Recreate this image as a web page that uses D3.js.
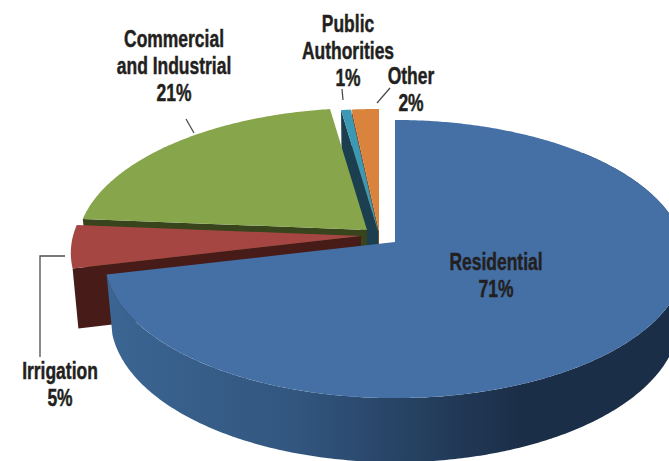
<!DOCTYPE html>
<html>
<head>
<meta charset="utf-8">
<script src="https://cdn.jsdelivr.net/npm/d3@7"></script>
<style>
  html, body { margin: 0; padding: 0; background: #fff; }
  svg { display: block; }
  .label { font-family: "Liberation Sans", sans-serif; font-weight: 700; font-size: 23px; fill: #231f20; stroke: #231f20; stroke-width: 0.45; text-anchor: middle; }
</style>
</head>
<body>
<div id="chart"></div>
<script>
// chart data
var categories = ["Residential", "Irrigation", "Commercial and Industrial", "Public Authorities", "Other"];
var percents = [71, 5, 21, 1, 2];
// wedge sizes as measured on the picture (printed percents are rounded)
var wedgeShares = [71.3, 5, 21.4, 0.6, 1.7];
var labelLines = [["Residential"], ["Irrigation"], ["Commercial", "and Industrial"], ["Public", "Authorities"], ["Other"]];

// set the dimensions of the graph
var svgWidth = 669;
var svgHeight = 461;

var svg = d3.select("#chart")
  .append("svg")
  .attr("width", svgWidth)
  .attr("height", svgHeight);

// disc projection: centre, radii, thickness and perspective
var center = {x: 395, y: 242};
var perspective = 0.1224;
var depth = 59;
var taper = 0.02;
var xScale = d3.scaleLinear().domain([-1, 1]).range([-288, 288]);
var yScale = d3.scaleLinear().domain([-1, 1]).range([-137, 137]);

// angle clockwise from 12 o'clock, r 0..1, level 0 = top face, 1 = bottom face
function project(angle, r, level) {
  var u = r * Math.sin(angle);
  var v = -r * Math.cos(angle);
  var s = 1 / (1 - v * perspective);
  var k = 1 - taper * level;
  return [xScale(u) * s * k, (yScale(v) * k + depth * level) * s];
}

function rim(a0, a1, level) {
  var n = Math.max(2, Math.ceil(Math.abs(a1 - a0) / 0.01));
  return d3.range(n + 1).map(function(i) {
    return project(a0 + (a1 - a0) * i / n, 1, level);
  });
}

var line = d3.line().curve(d3.curveLinear);

// styling per slice, same order as categories
var topColors = ["#4470a6", "#a54642", "#87a54b", "#3c99b5", "#d9833d"];
var faceColors = ["#1b2e47", "#461b18", "#38441c", "#1b3f4e", "#7f4a1f"];
var offsets = [[0, 0], [-34, -6], [-28, -12], [-17, -11], [-16, -11]];

var arcs = d3.pie().sort(null)(wedgeShares);

// wall shading for the big slice (gradient runs in the slice's own coordinates)
var grad = svg.append("defs").append("linearGradient")
  .attr("id", "wall")
  .attr("gradientUnits", "userSpaceOnUse")
  .attr("x1", 110 - center.x).attr("x2", 520 - center.x)
  .attr("y1", 0).attr("y2", 0);
grad.append("stop").attr("offset", "0").attr("stop-color", "#3b6592");
grad.append("stop").attr("offset", "0.45").attr("stop-color", "#32567f");
grad.append("stop").attr("offset", "1").attr("stop-color", "#1b2e47");

// back slices first, residential last so it covers the rest
var drawOrder = [4, 3, 2, 1, 0];

drawOrder.forEach(function(i) {
  var d = arcs[i];
  var g = svg.append("g")
    .attr("transform", "translate(" + (center.x + offsets[i][0]) + "," + (center.y + offsets[i][1]) + ")");

  if (i === 0) {
    // outer wall, only the part facing the viewer
    var wallTop = rim(Math.PI / 4, d.endAngle, 0);
    var wallBottom = rim(d.endAngle, Math.PI / 4, 1);
    g.append("path")
      .attr("d", line(wallTop.concat(wallBottom)) + "Z")
      .attr("fill", "url(#wall)");
  } else {
    // cut face along the start of the wedge
    g.append("path")
      .attr("d", line([
        project(d.startAngle, 0, 0),
        project(d.startAngle, 1, 0),
        project(d.startAngle, 1, 1),
        project(d.startAngle, 0, 1)
      ]) + "Z")
      .attr("fill", faceColors[i]);
  }

  // top face
  g.append("path")
    .attr("d", line([project(0, 0, 0)].concat(rim(d.startAngle, d.endAngle, 0))) + "Z")
    .attr("fill", topColors[i]);
});

// leader lines
var leaders = [
  [[186, 119], [194, 133]],
  [[65, 256], [40, 256], [40, 357]],
  [[342, 89], [343, 100]],
  [[390, 88], [377, 103]]
];
svg.selectAll("path.leader")
  .data(leaders)
  .enter()
  .append("path")
  .attr("class", "leader")
  .attr("d", function(d) { return line(d); })
  .attr("fill", "none")
  .attr("stroke", "#4d4d4f")
  .attr("stroke-width", 1.3);

// labels: centre x and first baseline per slice
var labelPos = [
  {x: 496, y: 270},
  {x: 60, y: 379},
  {x: 174, y: 47},
  {x: 348, y: 32},
  {x: 411, y: 84}
];
var lineStep = 27;
var textSqueeze = 0.76; // no condensed face installed

categories.forEach(function(name, i) {
  var text = svg.append("text")
    .attr("class", "label")
    .attr("transform", "translate(" + labelPos[i].x + "," + labelPos[i].y + ") scale(" + textSqueeze + ",1)");
  labelLines[i].concat(percents[i] + "%").forEach(function(t, j) {
    text.append("tspan")
      .attr("x", 0)
      .attr("y", j * lineStep)
      .text(t);
  });
});
</script>
</body>
</html>
